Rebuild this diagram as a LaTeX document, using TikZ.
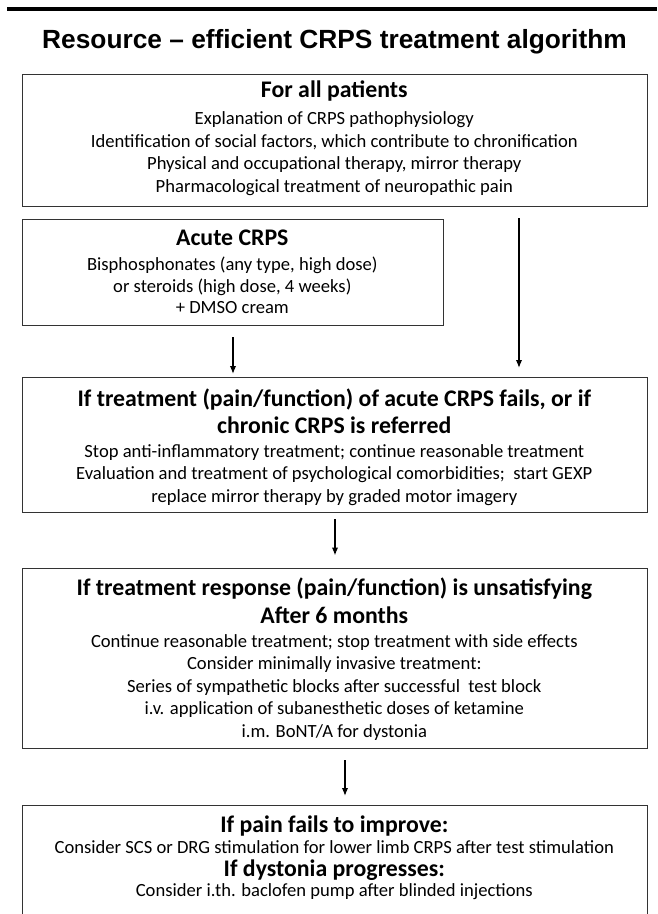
\documentclass[tikz,border=0pt]{standalone}
\usepackage{fontspec}
\setmainfont{Carlito}
\newfontfamily\titlefont{Liberation Sans}
\usetikzlibrary{arrows.meta}
\newcommand{\hd}[1]{{\fontsize{23.8}{26}\selectfont\bfseries #1}}

\begin{document}
\begin{tikzpicture}[x=1pt,y=-1pt,>={Latex[length=8pt,width=6.5pt]},
  box/.style={draw=black!80,line width=1.3pt,anchor=north west,inner sep=0pt,minimum width=625.3pt},
  txt/.style={align=center,anchor=base,inner sep=0pt,font=\fontsize{18.6}{22.4}\selectfont},
  arr/.style={->,line width=1.5pt}]
\clip (0,0) rectangle (657,914);
\draw [line width=3.7pt] (7,9.3) -- (657,9.3);
\node [anchor=base,inner sep=0pt,font=\titlefont\bfseries\fontsize{26.3}{30}\selectfont] (title) at (334.5,48.3) {Resource – efficient CRPS treatment algorithm};

\node [box,minimum height=132pt] (box1) at (21.7,74) {};
\node [box,minimum width=421.3pt,minimum height=106.5pt] (box2) at (21.7,218.5) {};
\node [box,minimum height=135pt] (box3) at (21.7,377) {};
\node [box,minimum height=180.5pt] (box4) at (21.7,567.5) {};
\node [box,minimum height=130pt] (box5) at (21.7,805) {};

\node [txt] (t1) at (334.3,192) {\hd{For all patients}\\[4.6pt]
  Explanation of CRPS pathophysiology\\
  Identification of social factors, which contribute to chronification\\
  Physical and occupational therapy, mirror therapy\\
  Pharmacological treatment of neuropathic pain};
\node [txt] (t2) at (232.3,313) {\hd{Acute CRPS}\\[2.6pt]
  Bisphosphonates (any type, high dose)\\[-0.4pt]
  or steroids (high dose, 4 weeks)\\[-1.4pt]
  + DMSO cream};
\node [txt] (t3) at (334.3,502) {\hd{If treatment (pain/function) of acute CRPS fails, or if}\\[4.6pt]
  \hd{chronic CRPS is referred}\\[1.6pt]
  Stop anti-inflammatory treatment; continue reasonable treatment\\
  Evaluation and treatment of psychological comorbidities;~ start GEXP\\
  replace mirror therapy by graded motor imagery};
\node [txt] (t4) at (334.3,737) {\hd{If treatment response (pain/function) is unsatisfying}\\[5.6pt]
  \hd{After 6 months}\\[1.6pt]
  Continue reasonable treatment; stop treatment with side effects\\
  Consider minimally invasive treatment:\\
  Series of sympathetic blocks after successful~ test block\\
  i.v. application of subanesthetic doses of ketamine\\
  i.m. BoNT/A for dystonia};
\node [txt] (t5) at (334.3,896) {\hd{If pain fails to improve:}\\[-1.4pt]
  Consider SCS or DRG stimulation for lower limb CRPS after test stimulation\\[0.6pt]
  \hd{If dystonia progresses:}\\[-2.4pt]
  Consider i.th. baclofen pump after blinded injections};

\coordinate (rt) at (519,0);
\coordinate (lo) at (345,0);
\draw [arr,shorten <=11pt,shorten >=3pt] (box2.south) -- (box3.north -| box2.south);
\draw [arr,shorten <=11pt,shorten >=9pt] (box1.south -| rt) -- (box3.north -| rt);
\draw [arr,shorten <=6pt,shorten >=12pt] (box3.south) -- (box4.north);
\draw [arr,shorten <=11pt,shorten >=9pt] (box4.south -| lo) -- (box5.north -| lo);
\end{tikzpicture}
\end{document}
